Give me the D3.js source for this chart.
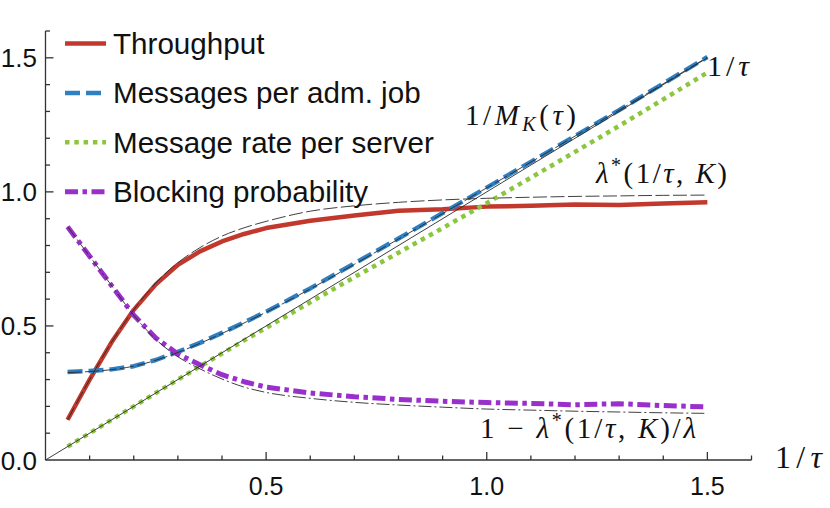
<!DOCTYPE html>
<html><head><meta charset="utf-8">
<script src="https://cdn.jsdelivr.net/npm/d3@7"></script>
<style>body{margin:0;background:#fff}svg{display:block}</style>
</head><body>
<svg id="c" width="830" height="508"></svg>
<script>
// ---- data ----
const xs = [0.05,0.1,0.15,0.2,0.25,0.3,0.35,0.4,0.45,0.5,0.6,0.7,0.8,0.9,1.0,1.1,1.2,1.3,1.4,1.5];
const throughput = [0.15,0.30,0.44,0.56,0.655,0.728,0.778,0.815,0.843,0.865,0.892,0.912,0.93,0.935,0.945,0.948,0.953,0.951,0.957,0.961];
const messagesPerJob = [0.328,0.332,0.338,0.350,0.373,0.403,0.437,0.474,0.513,0.553,0.640,0.733,0.826,0.921,1.016,1.112,1.208,1.305,1.404,1.503];
const messageRate = [0.05,0.10,0.15,0.20,0.25,0.30,0.349,0.397,0.446,0.493,0.588,0.682,0.773,0.865,0.958,1.053,1.149,1.246,1.345,1.445];
const blocking = [0.87,0.76,0.65,0.54,0.455,0.395,0.355,0.318,0.292,0.272,0.25,0.236,0.226,0.219,0.214,0.211,0.206,0.21,0.203,0.198];
// theory curves
const lambdaStar = [0.15,0.30,0.44,0.56,0.66,0.736,0.792,0.835,0.866,0.89,0.928,0.948,0.961,0.97,0.976,0.98,0.983,0.985,0.987,0.988];
const invMK = [0.326,0.330,0.337,0.350,0.372,0.401,0.435,0.472,0.511,0.551,0.638,0.730,0.824,0.919,1.015,1.111,1.208,1.305,1.403,1.502];
const blockTheory = [0.87,0.76,0.65,0.54,0.45,0.385,0.34,0.302,0.272,0.252,0.23,0.215,0.205,0.197,0.19,0.186,0.182,0.179,0.176,0.174];
const invTauX = [0,1.5];
const invTauY = [0,1.5];
const xMajorTicks = [0.5,1.0,1.5];
const yMajorTicks = [0.0,0.5,1.0,1.5];
const legendLabels = ["Throughput","Messages per adm. job","Message rate per server","Blocking probability"];

// ---- chart ----
const svg = d3.select("#c");
const x = d3.scaleLinear().domain([0,1.6]).range([45.5,751.5]);
const y = d3.scaleLinear().domain([0,1.6]).range([460,31]);

const styles = [
  {data:throughput, color:"#c2382c", dash:null, w:4.5},
  {data:messagesPerJob, color:"#2f80c2", dash:"15,6", w:4.5},
  {data:messageRate, color:"#8cc63e", dash:"4.5,4.8", w:4.5},
  {data:blocking, color:"#9a30cc", dash:"13,4.5,4.5,4.5", w:5}
];
const line = d3.line().x(d=>x(d[0])).y(d=>y(d[1]));
const smooth = d3.line().x(d=>x(d[0])).y(d=>y(d[1])).curve(d3.curveMonotoneX);

// axes
const axisColor = "#333";
const gx = svg.append("g");
gx.append("line").attr("x1",x(0)).attr("x2",x(1.6)).attr("y1",y(0)).attr("y2",y(0)).attr("stroke",axisColor).attr("stroke-width",1.3);
d3.range(1,17).forEach(i=>{
  const v=i/10, major = i%5===0;
  gx.append("line").attr("x1",x(v)).attr("x2",x(v)).attr("y1",y(0)).attr("y2",y(0)-(major?8:4.5)).attr("stroke",axisColor).attr("stroke-width",1.3);
});
xMajorTicks.forEach(v=>{
  gx.append("text").attr("x",x(v)).attr("y",495).attr("text-anchor","middle")
    .attr("font-family","Liberation Sans, Arial, sans-serif").attr("font-size",25).attr("fill","#111").text(v.toFixed(1));
});
const gy = svg.append("g");
gy.append("line").attr("x1",x(0)).attr("x2",x(0)).attr("y1",y(0)).attr("y2",y(1.6)).attr("stroke",axisColor).attr("stroke-width",1.3);
d3.range(1,17).forEach(i=>{
  const v=i/10, major = i%5===0;
  gy.append("line").attr("x1",x(0)).attr("x2",x(0)+(major?8:4.5)).attr("y1",y(v)).attr("y2",y(v)).attr("stroke",axisColor).attr("stroke-width",1.3);
});
yMajorTicks.forEach(v=>{
  gy.append("text").attr("x",37).attr("y",y(v)+9.5).attr("text-anchor","end")
    .attr("font-family","Liberation Sans, Arial, sans-serif").attr("font-size",26).attr("fill","#111").text(v.toFixed(1));
});

// series
styles.forEach(s=>{
  svg.append("path").datum(xs.map((v,i)=>[v,s.data[i]])).attr("d",line)
    .attr("fill","none").attr("stroke",s.color).attr("stroke-width",s.w)
    .attr("stroke-dasharray",s.dash).attr("stroke-linejoin","round");
});
// theory overlays
const thin = "#2a2a2a";
svg.append("path").datum(invTauX.map((v,i)=>[v,invTauY[i]])).attr("d",line).attr("fill","none").attr("stroke",thin).attr("stroke-width",0.9);
svg.append("path").datum(xs.map((v,i)=>[v,lambdaStar[i]])).attr("d",smooth).attr("fill","none").attr("stroke",thin).attr("stroke-width",0.9).attr("stroke-dasharray","14,3.5");
svg.append("path").datum(xs.map((v,i)=>[v,invMK[i]])).attr("d",smooth).attr("fill","none").attr("stroke",thin).attr("stroke-width",0.9).attr("stroke-dasharray","14,3.5");
svg.append("path").datum(xs.map((v,i)=>[v,blockTheory[i]])).attr("d",smooth).attr("fill","none").attr("stroke",thin).attr("stroke-width",0.9).attr("stroke-dasharray","13,3,2,3");

// legend
const lg = svg.append("g");
legendLabels.forEach((t,i)=>{
  const ly = 43.5 + i*49.4;
  const s = styles[i];
  lg.append("line").attr("x1",65).attr("x2",106).attr("y1",ly).attr("y2",ly)
    .attr("stroke",s.color).attr("stroke-width",s.w).attr("stroke-dasharray",s.dash);
  lg.append("text").attr("x",113).attr("y",ly+10.5)
    .attr("font-family","Liberation Sans, Arial, sans-serif").attr("font-size",29.6).attr("fill","#111").text(t);
});

// math labels
const serif = "Liberation Serif, Times New Roman, serif";
function mathLabel(px, py, parts, fs, len){
  const t = svg.append("text").attr("x",px).attr("y",py).attr("font-family",serif).attr("font-size",fs).attr("fill","#111");
  parts.forEach(p=>{
    const sp = t.append("tspan").text(p.t);
    if(p.i) sp.attr("font-style","italic");
    if(p.s) sp.attr("font-size",p.s);
    if(p.dy) sp.attr("dy",p.dy);
  });
  if(len) t.attr("textLength",len).attr("lengthAdjust","spacing");
}
mathLabel(707, 76, [{t:"1/"},{t:"τ",i:1}], 30, 42);
mathLabel(465, 125, [{t:"1/"},{t:"M",i:1},{t:"K",i:1,s:20,dy:6},{t:"(",dy:-6},{t:"τ",i:1},{t:")"}], 29, 111);
mathLabel(596, 183, [{t:"λ",i:1},{t:"*",s:20,dy:-11},{t:"(1/",dy:11},{t:"τ",i:1},{t:", "},{t:"K",i:1},{t:")"}], 29, 131);
mathLabel(480, 438, [{t:"1 − "},{t:"λ",i:1},{t:"*",s:20,dy:-11},{t:"(1/",dy:11},{t:"τ",i:1},{t:", "},{t:"K",i:1},{t:")/"},{t:"λ",i:1}], 29, 216);
mathLabel(775, 468, [{t:"1/"},{t:"τ",i:1}], 32, 47);
</script>
</body></html>
